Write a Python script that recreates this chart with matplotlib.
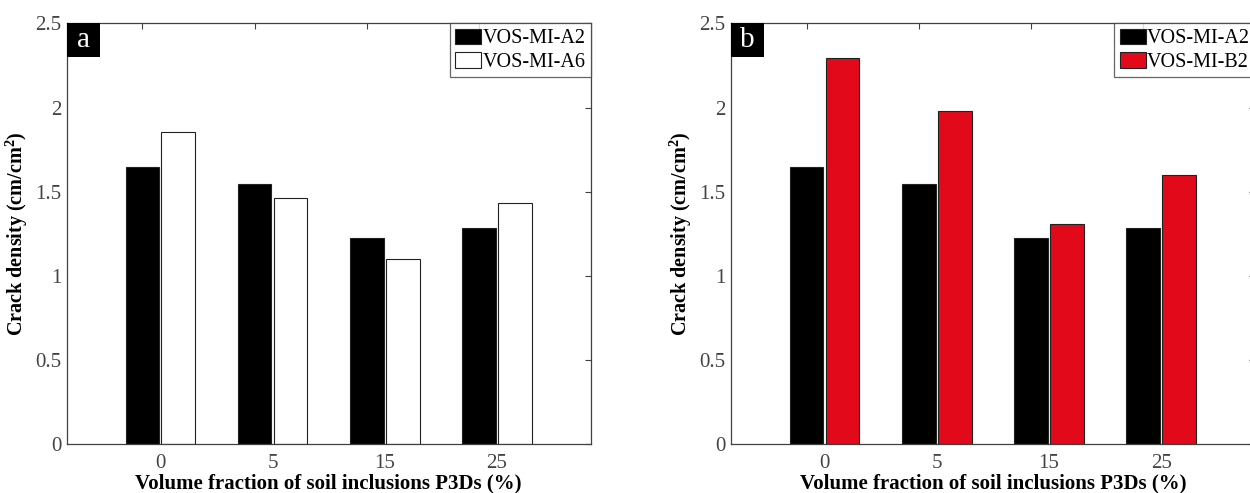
import matplotlib
matplotlib.use("Agg")
import matplotlib.pyplot as plt
from matplotlib.patches import Rectangle
import numpy as np

# data
fractions = ["0", "5", "15", "25"]
a2_density = [1.645, 1.544, 1.222, 1.284]
a6_density = [1.856, 1.463, 1.100, 1.430]
b2_density = [2.297, 1.979, 1.305, 1.598]

plt.rcParams["font.family"] = ["Liberation Serif", "DejaVu Serif"]
plt.rcParams["mathtext.fontset"] = "custom"
plt.rcParams["mathtext.rm"] = "Liberation Serif"
plt.rcParams["mathtext.bf"] = "Liberation Serif:bold"

red = "#e2091a"
axis_col = "#404040"
x = np.arange(1, len(fractions) + 1)
offset = 0.16
width = 0.30

fig = plt.figure(figsize=(12.5, 4.93), dpi=100)
ax_a = fig.add_axes([0.0534, 0.0994, 0.419, 0.853])
ax_b = fig.add_axes([0.5848, 0.0994, 0.419, 0.853])


def panel(ax, second, second_color, second_label, letter):
    ax.bar(x - offset, a2_density, width, color="black", edgecolor="#222222",
           linewidth=0.8, label="VOS-MI-A2")
    ax.bar(x + offset, second, width, color=second_color, edgecolor="#222222",
           linewidth=0.8, label=second_label)
    ax.set_xlim(0.166, 4.834)
    ax.set_ylim(0, 2.5)
    ax.set_xticks(x)
    ax.set_xticklabels(fractions)
    ax.set_yticks([0, 0.5, 1, 1.5, 2, 2.5])
    ax.set_yticklabels(["0", "0.5", "1", "1.5", "2", "2.5"])
    ax.tick_params(axis="both", labelsize=15, colors=axis_col, labelcolor="#444444")
    ax.tick_params(axis="x", bottom=False, pad=4)
    ax.tick_params(axis="y", left=False, right=True, direction="in", length=4, pad=4)
    for s in ax.spines.values():
        s.set_color(axis_col)
        s.set_linewidth(0.9)
    top = ax.secondary_xaxis("top")
    top.set_xticks(x - offset)
    top.set_xticklabels([])
    top.tick_params(direction="in", length=4, colors=axis_col)
    top.spines["top"].set_visible(False)
    ax.set_xlabel("Volume fraction of soil inclusions P3Ds (%)", fontsize=15,
                  fontweight="bold", labelpad=0)
    ax.set_ylabel(r"Crack density (cm/cm$^\mathbf{2}$)", fontsize=14.5,
                  fontweight="bold")
    ax.yaxis.set_label_coords(-0.07, 0.5)
    # panel letter in a black square at the top-left corner
    ax.add_patch(Rectangle((0, 1 - 0.079), 0.063, 0.079, transform=ax.transAxes,
                           facecolor="black", edgecolor="none", zorder=5))
    ax.text(0.0315, 1 - 0.0395, letter, transform=ax.transAxes, color="white",
            fontsize=21, ha="center", va="center", zorder=6)
    leg = ax.legend(loc="upper right", bbox_to_anchor=(1.0, 1.0), borderaxespad=0,
                    fontsize=14.5, frameon=True, fancybox=False, edgecolor=axis_col,
                    handlelength=1.3, handleheight=0.8, handletextpad=0.05,
                    labelspacing=0.2, borderpad=0.25)
    leg.get_frame().set_linewidth(0.9)


panel(ax_a, a6_density, "white", "VOS-MI-A6", "a")
panel(ax_b, b2_density, red, "VOS-MI-B2", "b")

fig.savefig("out.png", dpi=100)
